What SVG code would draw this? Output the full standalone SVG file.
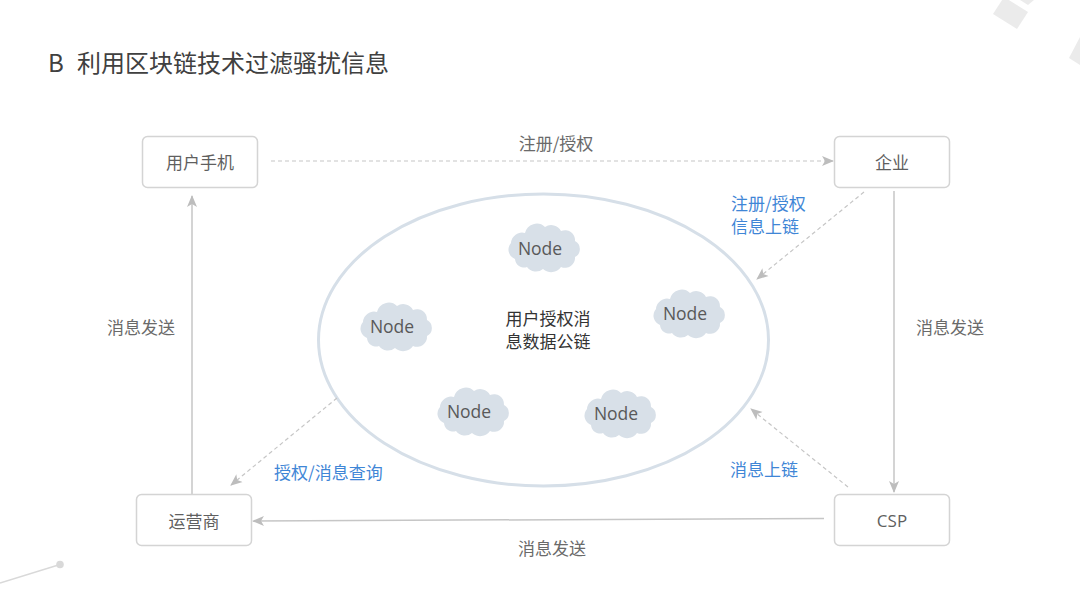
<svg xmlns="http://www.w3.org/2000/svg" width="1080" height="608" viewBox="0 0 1080 608">
<style>
.box{fill:#fff;stroke:#d4d4d4;stroke-width:1.5}
.lbl{font-family:"Noto Sans CJK SC","Noto Sans",sans-serif;font-size:17px;fill:#5f5f5f;text-anchor:middle;dominant-baseline:central}
.blue{font-family:"Noto Sans CJK SC","Noto Sans",sans-serif;font-size:17px;fill:#3f86d6}
.gray{font-family:"Noto Sans CJK SC","Noto Sans",sans-serif;font-size:17px;fill:#6a6a6a}
.node{font-family:"Open Sans","Noto Sans",sans-serif;font-size:17.5px;fill:#595959;text-anchor:middle;dominant-baseline:central}
.solid{fill:none;stroke:#c6c6c6;stroke-width:1.5}
.dash{fill:none;stroke:#c6c6c6;stroke-width:1.2;stroke-dasharray:4 3}
.deco{fill:#ebebeb}
.title{font-family:"Noto Sans CJK SC","Noto Sans",sans-serif;font-size:24px;fill:#404040}
</style>
<defs>
<marker id="arr" viewBox="0 0 12 12" refX="11" refY="6" markerWidth="12" markerHeight="12" markerUnits="userSpaceOnUse" orient="auto">
<path d="M0,1 L12,6 L0,11 L3,6 z" fill="#bdbdbd"/>
</marker>
<path id="cloud" d="M-28,12 a10,10 0 0 1 -4,-16 a11,11 0 0 1 14,-10 a12,12 0 0 1 20,-6 a11,11 0 0 1 16,4 a10,10 0 0 1 14,10 a9,9 0 0 1 0,16 a10,10 0 0 1 -14,10 a12,12 0 0 1 -18,2 a11,11 0 0 1 -16,-2 a9,9 0 0 1 -12,-8 z" fill="#d8e0e8"/>
</defs>
<rect width="1080" height="608" fill="#fff"/>
<g id="decoration">
<polygon class="deco" points="993,14 1017,29 1028,12 1004,-3"/>
<polygon class="deco" points="1020,0 1028,5 1034,0"/>
<polygon class="deco" points="1080,37 1069,58 1080,65"/>
<line x1="0" y1="583" x2="60" y2="564.5" stroke="#d9d9d9" stroke-width="1.5"/>
<circle cx="60" cy="564.5" r="3.8" fill="#d9d9d9"/>
</g>
<g id="title">
<text class="title" x="48" y="72">B</text>
<text class="title" x="77" y="72">利用区块链技术过滤骚扰信息</text>
</g>
<g id="chain">
<ellipse cx="543.5" cy="340" rx="225" ry="146" fill="none" stroke="#d6dfe8" stroke-width="3"/>
<text class="lbl" x="548" y="317" style="fill:#333">用户授权消</text>
<text class="lbl" x="548" y="340.5" style="fill:#333">息数据公链</text>
</g>
<g id="node1"><use href="#cloud" x="543" y="247"/><text class="node" x="540" y="248">Node</text></g>
<g id="node2"><use href="#cloud" x="395" y="326"/><text class="node" x="392" y="326">Node</text></g>
<g id="node3"><use href="#cloud" x="688" y="313"/><text class="node" x="685" y="313">Node</text></g>
<g id="node4"><use href="#cloud" x="472" y="411"/><text class="node" x="469" y="411">Node</text></g>
<g id="node5"><use href="#cloud" x="619" y="413"/><text class="node" x="616" y="413">Node</text></g>
<g id="connectors">
<line class="dash" x1="271" y1="161" x2="833" y2="161" marker-end="url(#arr)"/>
<line class="solid" x1="894" y1="191" x2="894" y2="492" marker-end="url(#arr)"/>
<line class="solid" x1="824" y1="518.5" x2="253" y2="521" marker-end="url(#arr)"/>
<line class="solid" x1="192" y1="494" x2="192" y2="196" marker-end="url(#arr)"/>
<line class="dash" x1="864" y1="192" x2="757" y2="279" marker-end="url(#arr)"/>
<line class="dash" x1="337" y1="398" x2="231" y2="485" marker-end="url(#arr)"/>
<line class="dash" x1="848" y1="487" x2="751" y2="409" marker-end="url(#arr)"/>
<text class="gray" x="556" y="142" text-anchor="middle" dominant-baseline="central">注册/授权</text>
<text class="blue" x="731" y="202" dominant-baseline="central">注册/授权</text>
<text class="blue" x="731" y="225" dominant-baseline="central">信息上链</text>
<text class="gray" x="141" y="326" text-anchor="middle" dominant-baseline="central">消息发送</text>
<text class="gray" x="950" y="326" text-anchor="middle" dominant-baseline="central">消息发送</text>
<text class="gray" x="552" y="547" text-anchor="middle" dominant-baseline="central">消息发送</text>
<text class="blue" x="274" y="471" dominant-baseline="central">授权/消息查询</text>
<text class="blue" x="730" y="468" dominant-baseline="central">消息上链</text>
</g>
<g id="phone"><rect class="box" x="142.5" y="136.5" width="115" height="51" rx="5"/><text class="lbl" x="200" y="161">用户手机</text></g>
<g id="enterprise"><rect class="box" x="834.5" y="136.5" width="115" height="51" rx="5"/><text class="lbl" x="892" y="161">企业</text></g>
<g id="operator"><rect class="box" x="136.5" y="494.5" width="115" height="51" rx="5"/><text class="lbl" x="194" y="520">运营商</text></g>
<g id="csp"><rect class="box" x="834.5" y="494.5" width="115" height="51" rx="5"/><text class="lbl" x="892" y="520" style="font-family:'Open Sans','Noto Sans',sans-serif">CSP</text></g>
</svg>
